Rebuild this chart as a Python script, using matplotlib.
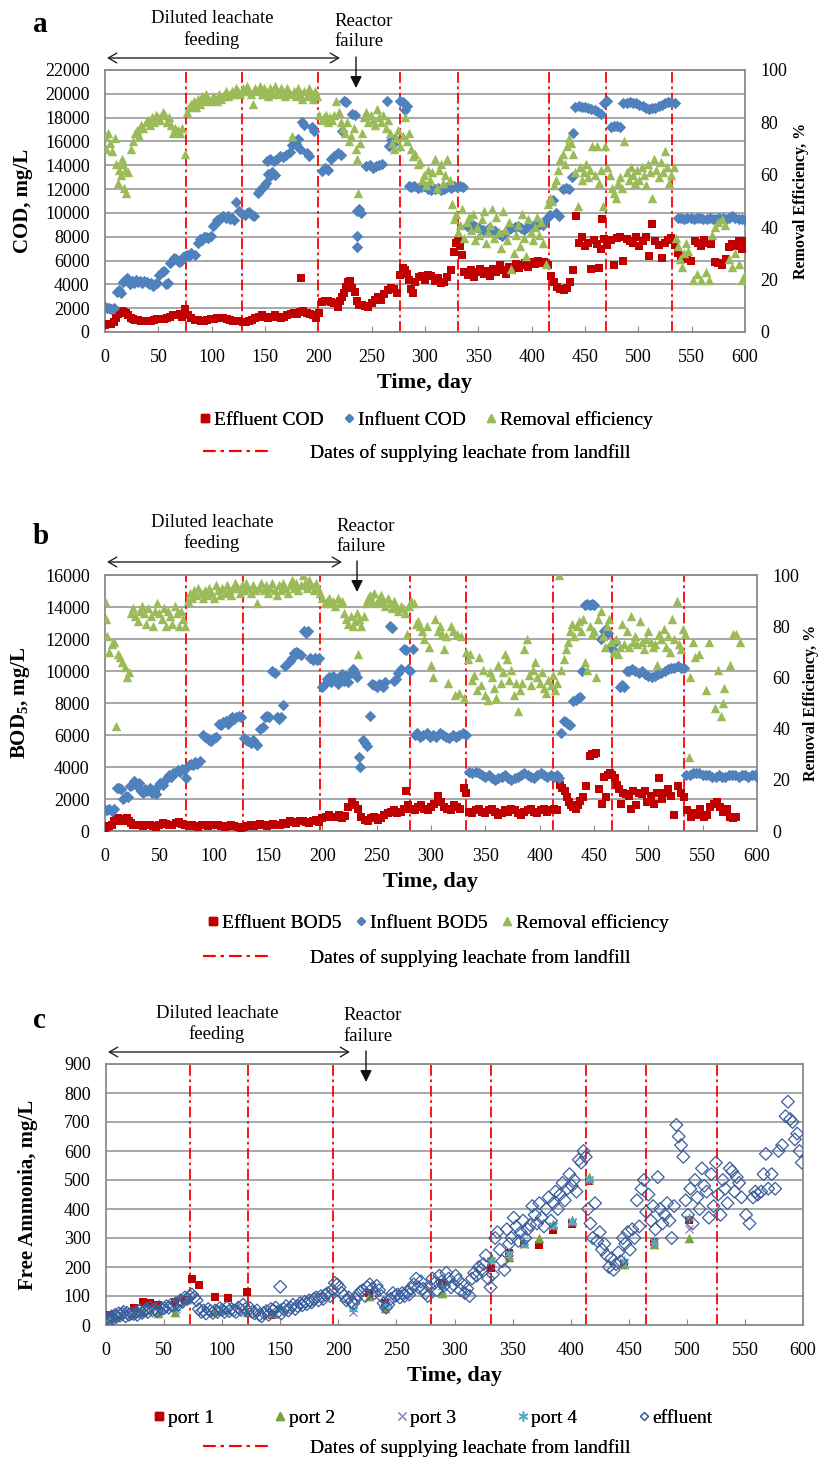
import matplotlib
matplotlib.use("Agg")
import matplotlib.pyplot as plt
from matplotlib.lines import Line2D

plt.rcParams['font.family'] = ['Liberation Serif', 'DejaVu Serif']
plt.rcParams['mathtext.fontset'] = 'custom'
plt.rcParams['mathtext.rm'] = 'Liberation Serif'
plt.rcParams['mathtext.bf'] = 'Liberation Serif:bold'

# ---------------- data ----------------
supply_days_a = [76, 128, 200, 277, 331, 416, 470, 532]
supply_days_b = [75, 127, 198, 281, 332, 412, 467, 533]
supply_days_c = [72, 122, 195, 280, 331, 413, 465, 526]

influent_cod = [(0,2100),(2,2050),(4,2000),(6,1950),(8,2000),(11,3400),(13,3500),(15,3300),(17,4200),(19,4400),
 (21,4500),(23,4000),(25,4300),(27,4100),(29,4400),(31,4200),(33,4300),(35,4100),(37,4300),(39,4200),(41,4000),
 (43,4100),(45,3900),(47,4000),(49,4100),(51,4800),(53,5000),(55,5100),(57,4000),(59,4100),(61,5800),(63,6000),
 (65,6200),(67,6100),(69,5900),(71,6000),(73,6300),(75,6400),(77,6500),(79,6400),(81,6600),(84,6500),(87,7500),
 (89,7800),(91,7700),(93,8000),(95,8000),(97,7900),(99,8100),(101,8900),(103,9100),(105,9400),(107,9500),(109,9600),
 (111,9700),(113,9600),(115,9700),(117,9500),(119,9600),(121,9400),(123,10900),(126,10200),(128,9900),(131,9800),
 (133,10000),(135,10100),(138,9800),(140,9700),(143,11700),(145,11900),(147,12100),(149,12300),(151,12500),
 (153,13300),(155,13100),(157,13400),(159,13200),(152,14400),(155,14500),(158,14400),(161,14500),(164,14800),
 (167,14700),(170,14900),(173,15100),(175,15700),(177,16000),(179,15800),(181,16200),(183,15400),(185,17600),
 (187,17400),(189,15000),(191,14800),(194,17200),(196,16900),(203,13500),(206,13800),(209,13600),(212,14500),
 (215,14800),(218,15000),(221,14900),(222,16900),(224,19400),(226,19300),(232,18300),(234,18200),(236,10200),
 (238,10300),(240,10000),(236,8100),(236,7100),(245,13900),(248,14000),(251,13800),(254,13900),(257,14000),
 (260,14100),(264,19400),(266,15600),(268,16100),(270,15800),(272,16200),(277,19400),(279,19300),(281,18600),
 (283,19000),(285,12300),(287,12200),(290,12300),(293,12100),(296,12200),(299,12300),(303,12000),(306,11900),
 (309,12000),(312,12100),(315,11900),(318,12000),(321,12200),(324,12100),(327,12300),(330,12200),(333,12300),
 (336,12200),(339,8900),(342,8800),(345,9000),(348,8800),(351,8700),(354,8600),(357,8500),(360,8700),(363,8600),
 (366,8500),(369,8200),(372,8100),(375,8300),(378,8600),(381,8700),(384,8800),(387,8900),(390,8700),(393,8600),
 (396,8800),(399,8900),(402,9000),(405,8900),(408,9100),(411,9000),(414,9600),(417,9800),(418,11000),(420,11100),
 (423,10000),(426,9700),(429,12000),(432,12100),(435,12000),(438,13000),(439,16700),(441,18900),(444,19000),
 (447,18900),(450,18900),(453,18800),(456,18700),(459,18600),(462,18500),(465,18300),(468,19200),(471,19400),
 (474,17200),(477,17300),(480,17300),(483,17200),(486,19200),(489,19200),(492,19300),(495,19200),(498,19200),
 (501,19100),(504,19000),(507,18800),(510,18700),(513,18800),(516,18800),(519,19000),(522,19100),(525,19200),
 (528,19300),(531,19300),(534,19200),(537,9600),(540,9600),(543,9500),(546,9600),(549,9600),(552,9500),(555,9600),
 (558,9600),(561,9500),(564,9500),(567,9600),(570,9500),(573,9500),(576,9600),(579,9600),(582,9500),(585,9600),
 (588,9700),(591,9600),(594,9500),(597,9500),(600,9400)]

effluent_cod = [(0,600),(2,700),(4,650),(6,700),(8,800),(10,1200),(12,1500),(14,1700),(16,1800),(18,1700),(20,1600),
 (22,1400),(24,1200),(26,1100),(28,1000),(31,1000),(34,950),(37,900),(40,900),(43,950),(46,1000),(49,1050),(52,1100),
 (55,1100),(58,1200),(61,1300),(64,1400),(67,1450),(70,1500),(72,1300),(75,1900),(78,1400),(81,1200),(84,1000),
 (87,1000),(90,900),(93,950),(96,1000),(99,1100),(102,1100),(105,1150),(108,1200),(111,1150),(114,1100),(117,1000),
 (120,950),(123,900),(126,950),(129,800),(132,850),(135,900),(138,1000),(141,1200),(144,1300),(147,1400),(150,1300),
 (153,1200),(156,1300),(159,1400),(162,1300),(165,1200),(168,1300),(171,1400),(174,1500),(177,1600),(180,1500),
 (183,1700),(184,4500),(186,1800),(189,1600),(192,1500),(195,1400),(198,1200),(201,1600),(203,2500),(206,2600),
 (209,2600),(212,2500),(215,2400),(218,2100),(220,2600),(222,2900),(224,3300),(226,3800),(228,4200),(230,4300),
 (232,3700),(234,3400),(236,2600),(238,2300),(241,2300),(244,2200),(247,2100),(250,2400),(253,2700),(256,2900),
 (259,2700),(262,3200),(265,3500),(268,3700),(271,3600),(274,3300),(277,4800),(279,5400),(281,5200),(283,4900),
 (285,4400),(287,3600),(289,3300),(291,4200),(294,4600),(297,4700),(300,4400),(303,4800),(306,4700),(309,4300),
 (312,4500),(315,4100),(318,4200),(321,4600),(324,5200),(327,6700),(329,7500),(331,7700),(333,7200),(335,6500),
 (337,5000),(340,4800),(343,5200),(346,4600),(349,5000),(352,5300),(355,4900),(358,5100),(361,4700),(364,5300),
 (367,5000),(370,5600),(373,5200),(376,4900),(379,5500),(382,5200),(385,5700),(388,5400),(391,5600),(394,5800),
 (397,5500),(400,5900),(403,5700),(406,6000),(409,5800),(412,5900),(415,5600),(418,4700),(421,4200),(424,3800),
 (427,3600),(430,3500),(433,3700),(436,4200),(439,5200),(442,9700),(444,7500),(447,8000),(450,7200),(453,7500),
 (456,5300),(458,7700),(461,7400),(463,5400),(465,7000),(466,9500),(468,7800),(471,7300),(474,7700),(477,5600),
 (480,7900),(483,8000),(486,6000),(489,7800),(492,7600),(495,7500),(498,8000),(501,7200),(504,7600),(507,8000),
 (510,6400),(513,9100),(516,7600),(519,7300),(522,6200),(525,7500),(528,7700),(531,7900),(534,7300),(537,6600),
 (540,6400),(543,6100),(546,6200),(549,6000),(553,7600),(556,7500),(559,7200),(562,7700),(565,7500),(568,7400),
 (572,5900),(575,5800),(578,5600),(582,6100),(585,7100),(588,7400),(591,7200),(594,7600),(597,7000),(600,7600)]

removal_cod = [(0,75),(1,70),(3,76),(5,72),(7,69),(9,74),(10,64),(12,57),(13,62),(15,60),(16,66),(17,64),(18,55),
 (19,62),(20,53),(22,61),(24,70),(26,73),(28,76),(30,77),(32,75),(34,79),(36,78),(38,80),(40,81),(42,79),(44,82),
 (46,80),(48,83),(50,82),(52,81),(54,84),(56,83),(58,80),(60,82),(62,79),(64,76),(66,78),(68,77),(70,76),(72,78),
 (75,68),(77,84),(79,86),(81,87),(83,88),(85,86),(87,89),(89,87),(91,90),(93,88),(95,91),(97,89),(99,88),(101,90),
 (103,89),(105,88),(107,91),(109,89),(111,90),(113,92),(115,90),(117,91),(119,92),(121,91),(123,93),(125,92),
 (127,91),(129,93),(131,92),(133,94),(135,92),(137,91),(139,87),(141,93),(143,92),(145,94),(147,91),(149,93),
 (151,92),(153,90),(155,93),(157,91),(159,94),(161,92),(163,91),(165,93),(167,92),(169,90),(171,93),(173,91),
 (175,75),(177,92),(179,90),(181,93),(183,91),(185,89),(187,92),(189,90),(191,93),(193,91),(195,89),(197,92),
 (199,90),(201,83),(203,81),(205,82),(207,83),(209,80),(211,82),(213,81),(215,83),(217,88),(219,84),(221,80),
 (223,78),(225,76),(227,80),(229,73),(231,75),(233,78),(235,70),(236,66),(237,53),(239,72),(241,76),(243,82),
 (245,84),(247,80),(249,83),(251,81),(253,79),(255,85),(257,82),(259,80),(261,83),(263,78),(265,81),(267,76),
 (269,72),(271,70),(273,74),(275,77),(277,71),(279,75),(281,82),(283,73),(285,76),(287,70),(289,67),(291,68),
 (293,64),(295,65),(297,58),(299,60),(301,56),(303,62),(305,58),(307,61),(309,66),(311,55),(313,62),(315,64),
 (317,57),(319,60),(321,66),(323,58),(325,49),(327,43),(329,45),(331,38),(333,41),(335,47),(337,36),(339,42),
 (341,44),(343,39),(345,45),(347,35),(349,40),(351,37),(353,43),(355,46),(357,34),(359,38),(361,41),(363,47),
 (365,36),(367,44),(369,38),(371,32),(373,46),(375,39),(377,35),(379,42),(381,24),(383,30),(385,37),(387,41),
 (389,33),(391,45),(393,36),(395,29),(397,43),(399,38),(401,35),(403,40),(405,44),(407,37),(409,42),(411,34),
 (413,26),(415,49),(417,51),(419,50),(421,56),(423,58),(425,62),(427,66),(429,68),(431,64),(433,71),(435,74),
 (437,72),(439,68),(441,61),(443,48),(445,63),(447,58),(449,61),(451,64),(453,59),(455,62),(457,71),(459,60),
 (461,71),(463,57),(465,62),(467,48),(469,71),(471,63),(473,60),(475,55),(477,53),(479,51),(481,57),(483,59),
 (485,55),(487,73),(489,61),(491,58),(493,63),(495,60),(497,57),(499,62),(501,58),(503,63),(505,60),(507,56),
 (509,64),(511,61),(513,51),(515,66),(517,62),(519,59),(521,65),(523,61),(525,69),(527,63),(529,57),(531,60),
 (533,63),(535,36),(537,33),(539,28),(541,25),(543,30),(545,34),(547,31),(551,20),(555,22),(559,20),(563,23),
 (566,20),(569,37),(572,40),(575,42),(578,43),(581,41),(585,28),(588,25),(591,30),(594,26),(597,20),(600,22)]

influent_bod = [(0,1300),(2,1300),(4,1400),(6,1250),(8,1350),(11,2700),(13,2700),(15,2600),(17,2000),(19,2200),
 (21,2100),(23,2800),(25,2900),(27,3100),(29,2800),(31,3000),(33,2500),(35,2400),(37,2600),(39,2500),(41,2700),
 (43,2400),(45,2500),(47,2300),(49,2800),(51,3000),(53,2900),(55,3200),(57,3300),(59,3500),(61,3400),(63,3600),
 (65,3700),(67,3800),(69,3700),(71,3900),(73,3800),(75,3300),(77,4100),(79,4200),(81,4100),(83,4300),(85,4200),
 (87,4400),(90,6000),(92,5900),(94,5800),(96,5700),(98,5600),(100,5800),(102,5900),(105,6700),(107,6600),
 (109,6800),(111,6900),(113,6700),(115,7000),(117,7100),(119,7000),(121,7100),(123,7200),(125,7100),(128,5800),
 (130,5700),(132,5600),(134,5500),(136,5700),(138,5500),(140,5400),(143,6400),(145,6500),(147,7100),(149,7200),
 (151,7100),(154,10000),(156,9900),(158,7100),(160,7000),(162,7100),(164,7900),(166,10300),(168,10500),
 (170,10600),(172,10800),(174,11100),(176,11200),(178,11100),(180,11000),(183,12500),(185,12400),(187,12500),
 (189,10800),(191,10700),(193,10800),(195,10700),(197,10800),(200,9000),(202,9200),(204,9500),(206,9600),
 (208,9300),(210,9700),(212,9500),(214,9200),(216,9600),(218,9800),(220,9400),(222,9700),(224,9300),(226,9900),
 (228,10100),(230,9900),(232,9600),(234,4600),(235,4000),(237,5700),(239,5500),(241,5300),(244,7200),(246,9200),
 (248,9100),(250,9000),(252,9200),(254,9100),(256,9000),(258,9300),(262,12800),(264,12700),(266,9400),(268,9500),
 (270,9900),(272,10100),(275,11400),(277,11300),(279,10100),(281,10000),(283,11400),(285,6000),(287,6100),
 (290,5900),(293,6000),(296,6100),(299,5900),(302,6000),(305,5900),(308,6100),(311,6000),(314,5900),(317,5800),
 (320,6000),(323,5900),(326,6000),(329,6100),(332,6000),(335,3700),(338,3600),(341,3700),(344,3600),(347,3500),
 (350,3400),(353,3500),(356,3300),(359,3200),(362,3300),(365,3400),(368,3500),(371,3300),(374,3200),(377,3300),
 (380,3400),(383,3500),(386,3600),(389,3500),(392,3400),(395,3300),(398,3500),(401,3600),(404,3500),(407,3400),
 (410,3500),(413,3400),(416,3500),(418,3300),(420,6100),(422,6900),(424,6800),(426,6700),(428,6600),(431,8100),
 (433,8200),(435,8300),(437,8400),(439,10000),(442,14100),(444,14200),(446,14100),(448,14200),(450,14100),
 (456,12000),(459,12500),(461,12600),(463,12400),(465,11500),(467,11400),(469,11800),(474,9000),(476,9100),
 (478,9000),(480,10000),(482,10000),(485,10100),(488,10000),(491,9900),(494,10000),(497,9800),(500,9700),
 (503,9600),(506,9700),(509,9800),(512,9900),(515,10000),(518,10100),(521,10200),(524,10200),(527,10300),
 (530,10200),(533,10200),(535,3500),(538,3500),(541,3600),(544,3600),(547,3600),(550,3500),(553,3500),(556,3500),
 (559,3400),(562,3400),(565,3500),(568,3400),(571,3400),(574,3500),(577,3500),(580,3500),(583,3400),(586,3500),
 (589,3500),(592,3400),(595,3500),(598,3500),(600,3400)]

effluent_bod = [(0,200),(2,250),(4,300),(6,350),(8,600),(10,700),(12,800),(14,750),(16,650),(18,700),(20,800),
 (22,600),(24,500),(26,400),(29,350),(32,400),(35,300),(38,350),(41,400),(44,300),(47,250),(50,400),(53,500),
 (56,450),(59,350),(62,400),(65,500),(68,550),(71,450),(74,400),(77,300),(80,350),(83,300),(86,250),(89,350),
 (92,400),(95,300),(98,350),(101,400),(104,350),(107,300),(110,250),(113,300),(116,350),(119,300),(122,250),
 (125,200),(128,250),(131,300),(134,350),(137,300),(140,400),(143,450),(146,350),(149,300),(152,400),(155,450),
 (158,350),(161,400),(164,500),(167,450),(170,600),(173,550),(176,500),(179,650),(182,600),(185,550),(188,500),
 (191,600),(194,700),(197,550),(200,800),(203,900),(206,1000),(209,850),(212,900),(215,1000),(218,800),(221,950),
 (224,1500),(227,1800),(230,1600),(233,1400),(236,900),(239,700),(242,600),(245,800),(248,900),(251,700),
 (254,800),(257,1000),(260,1100),(263,1200),(266,1300),(269,1100),(272,1200),(275,1400),(277,2500),(279,1600),
 (282,1400),(285,1300),(288,1500),(291,1600),(294,1400),(297,1300),(300,1500),(303,1700),(306,2200),(309,1800),
 (312,1500),(315,1400),(318,1300),(321,1600),(324,1500),(327,1400),(330,2700),(332,2400),(335,1200),(338,1100),
 (341,1300),(344,1400),(347,1200),(350,1100),(353,1300),(356,1400),(359,1200),(362,1000),(365,1100),(368,1300),
 (371,1200),(374,1400),(377,1300),(380,1100),(383,1000),(386,1200),(389,1300),(392,1400),(395,1200),(398,1100),
 (401,1300),(404,1400),(407,1200),(410,1300),(413,1400),(416,1300),(419,2900),(421,2700),(423,2500),(425,2100),
 (427,1800),(429,1600),(431,1500),(433,1400),(435,1600),(437,1900),(440,2100),(443,2800),(446,4700),(448,4800),
 (450,4800),(452,4900),(455,2600),(457,1700),(459,3400),(461,2100),(463,3500),(465,3600),(467,3500),(469,3300),
 (471,2900),(473,2600),(475,1700),(477,2400),(479,2300),(482,2200),(484,1400),(486,2500),(489,1600),(491,2400),
 (494,2300),(497,2500),(499,1800),(502,2200),(505,1700),(508,2400),(510,3300),(513,2000),(515,2400),(518,2600),
 (521,2200),(524,1000),(527,2800),(530,2400),(533,2100),(536,1300),(539,900),(542,1100),(545,1000),(548,1400),
 (551,900),(554,1000),(557,1500),(560,1700),(563,1800),(566,1500),(569,1200),(572,1400),(575,900),(578,800),
 (581,900)]

removal_bod = [(0,90),(1,83),(2,76),(4,70),(6,73),(8,74),(10,41),(12,69),(14,68),(16,66),(18,64),(20,60),(22,62),
 (24,85),(26,87),(28,84),(30,82),(32,86),(34,88),(36,85),(38,81),(40,87),(42,84),(44,80),(46,86),(48,89),(50,85),
 (52,83),(54,87),(56,80),(58,86),(60,84),(62,81),(64,88),(66,85),(68,80),(70,86),(72,83),(74,80),(76,90),(78,93),
 (80,91),(82,94),(84,92),(86,95),(88,93),(90,91),(92,94),(94,92),(96,95),(98,93),(100,91),(102,96),(104,94),
 (106,92),(108,95),(110,93),(112,96),(114,94),(116,92),(118,95),(120,97),(122,95),(124,93),(126,96),(128,94),
 (130,97),(132,95),(134,93),(136,96),(138,94),(140,89),(142,95),(144,97),(146,94),(148,96),(150,93),(152,95),
 (154,97),(156,94),(158,92),(160,96),(162,94),(164,97),(166,95),(168,93),(170,96),(172,98),(174,95),(176,97),
 (178,94),(180,96),(182,100),(184,97),(186,95),(188,98),(190,96),(192,94),(194,97),(196,95),(198,93),(200,91),
 (202,89),(204,90),(206,91),(208,89),(210,90),(212,88),(214,91),(216,89),(218,90),(220,85),(222,83),(224,81),
 (226,84),(228,80),(230,82),(232,85),(233,69),(234,83),(236,80),(238,84),(240,89),(242,91),(244,92),(246,90),
 (248,93),(250,89),(252,91),(254,92),(256,90),(258,88),(260,91),(262,89),(264,87),(266,90),(268,88),(270,86),
 (272,88),(274,87),(276,85),(278,77),(280,88),(282,90),(284,89),(286,81),(288,82),(290,80),(292,78),(294,75),
 (296,80),(298,72),(300,65),(302,60),(304,83),(306,78),(308,80),(310,77),(312,71),(314,76),(316,58),(318,80),
 (320,78),(322,53),(324,77),(326,54),(328,76),(330,52),(332,70),(334,67),(336,69),(338,59),(340,61),(342,55),
 (344,68),(346,57),(348,63),(350,53),(352,51),(354,62),(356,60),(358,56),(360,52),(362,65),(364,58),(366,62),
 (368,69),(370,67),(372,59),(374,63),(376,53),(378,58),(380,47),(382,55),(384,58),(386,71),(388,75),(390,61),
 (392,57),(394,63),(396,66),(398,60),(400,58),(402,62),(404,56),(406,54),(408,59),(410,57),(412,61),(414,55),
 (416,58),(418,100),(420,63),(422,67),(424,71),(426,74),(428,78),(430,81),(432,76),(434,80),(436,82),(438,78),
 (440,83),(442,66),(444,63),(446,80),(448,77),(450,78),(452,60),(454,83),(456,86),(458,76),(460,72),(462,80),
 (464,83),(466,74),(468,70),(470,75),(472,69),(474,72),(476,81),(478,73),(480,78),(482,72),(484,84),(486,74),
 (488,76),(490,73),(492,82),(494,74),(496,71),(498,75),(500,78),(502,74),(504,72),(506,73),(508,65),(510,77),
 (512,75),(514,79),(516,72),(518,76),(520,70),(522,83),(524,75),(526,90),(528,73),(530,71),(532,79),(534,77),
 (537,29),(538,60),(541,74),(543,68),(547,69),(553,55),(556,74),(561,48),(564,63),(567,45),(569,50),(570,56),
 (575,65),(578,77),(581,77),(584,74)]

ammonia_effluent = [(0,20),(2,25),(3,18),(5,30),(6,22),(8,35),(9,28),(11,40),(12,32),(14,38),(15,45),(17,30),(18,42),
 (20,35),(22,40),(24,38),(26,45),(27,35),(29,50),(31,42),(33,48),(35,55),(36,45),(38,60),(40,50),(42,55),(44,48),
 (46,62),(48,55),(50,58),(52,65),(54,60),(56,70),(58,66),(60,75),(62,70),(64,85),(66,80),(68,95),(70,90),(72,100),
 (74,105),(76,95),(78,85),(80,55),(82,45),(84,50),(86,40),(88,55),(90,48),(92,42),(94,50),(96,45),(98,58),(100,52),
 (102,45),(104,60),(106,48),(108,55),(110,50),(112,45),(114,60),(116,52),(118,70),(120,55),(122,48),(124,58),
 (126,45),(128,40),(130,50),(132,35),(134,30),(136,42),(138,48),(140,35),(142,55),(144,50),(146,60),(148,45),
 (150,132),(151,40),(153,55),(155,65),(157,50),(159,60),(161,70),(163,55),(165,65),(167,75),(169,68),(171,80),
 (173,72),(175,85),(177,78),(179,90),(181,95),(183,85),(185,100),(187,90),(189,105),(191,110),(193,100),(195,120),
 (197,145),(199,140),(201,130),(203,110),(205,100),(207,85),(209,95),(211,80),(213,75),(215,90),(217,105),
 (219,115),(221,120),(223,100),(225,130),(227,140),(229,125),(231,110),(233,135),(235,120),(237,100),(239,75),
 (241,60),(243,70),(245,90),(247,110),(249,100),(251,105),(253,95),(255,110),(257,100),(259,115),(261,105),
 (263,125),(265,140),(267,160),(269,130),(271,150),(273,125),(275,110),(277,100),(279,130),(281,160),(283,145),
 (285,120),(287,170),(289,150),(291,135),(293,180),(295,160),(297,130),(299,140),(301,170),(303,155),(305,120),
 (307,140),(309,110),(311,125),(313,100),(315,160),(317,180),(319,170),(321,200),(323,190),(325,210),(327,240),
 (329,160),(331,130),(333,175),(335,300),(337,320),(339,260),(341,220),(343,190),(345,330),(347,280),(349,300),
 (351,370),(353,340),(355,290),(357,320),(359,360),(361,300),(363,330),(365,345),(367,410),(369,380),(371,350),
 (373,420),(375,370),(377,340),(379,400),(381,440),(383,360),(385,420),(387,460),(389,400),(391,450),(393,490),
 (395,430),(397,470),(399,520),(401,480),(403,500),(405,460),(407,570),(409,560),(411,600),(413,580),(415,400),
 (417,350),(419,300),(421,420),(423,290),(425,320),(427,260),(429,280),(431,240),(433,200),(435,230),(437,190),
 (439,210),(441,250),(443,220),(445,300),(447,280),(449,320),(451,260),(453,330),(455,300),(457,430),(459,340),
 (461,470),(463,500),(465,390),(467,450),(469,360),(471,410),(473,330),(475,510),(477,400),(479,350),(481,380),
 (483,420),(485,360),(487,300),(489,410),(491,690),(493,650),(495,620),(497,580),(499,430),(501,380),(503,470),
 (505,350),(507,500),(509,440),(511,400),(513,540),(515,480),(517,460),(519,370),(521,520),(523,410),(525,560),
 (527,450),(529,380),(531,500),(533,470),(535,420),(537,540),(539,530),(541,460),(543,510),(545,490),(547,440),
 (551,380),(554,350),(557,440),(559,460),(561,450),(564,460),(566,520),(568,590),(570,470),(573,520),(576,470),
 (579,600),(582,620),(585,720),(587,770),(589,710),(591,700),(593,640),(595,660),(597,600),(599,560)]

ammonia_port1 = [(3,35),(24,57),(32,80),(38,75),(45,69),(59,80),(68,86),(74,160),(80,138),(94,98),(105,92),(121,115),
 (143,35),(226,110),(240,75),(289,146),(331,195),(347,247),(360,279),(373,276),(385,328),(401,350),(416,498),
 (446,210),(472,287),(502,362)]
ammonia_port2 = [(3,25),(24,40),(32,50),(45,40),(59,45),(70,90),(94,50),(121,45),(143,40),(226,100),(240,60),
 (289,111),(331,235),(347,235),(360,282),(373,299),(385,350),(401,362),(416,509),(446,212),(472,279),(502,299)]
ammonia_port3 = [(5,28),(30,45),(60,55),(100,50),(150,55),(213,45),(240,65),(289,120),(331,220),(347,240),(360,280),
 (385,340),(401,355),(416,500),(446,215),(472,285),(502,330)]
ammonia_port4 = [(5,30),(30,42),(60,58),(100,52),(150,58),(213,55),(240,70),(289,130),(331,225),(347,250),(360,285),
 (385,345),(401,360),(416,505),(446,220),(472,290),(502,370)]

# ---------------- styling ----------------
RED = '#C00000'
BLUE = '#4F81BD'
GREEN = '#9BBB59'
DBLUE = '#3A5E9C'
PURPLE = '#9C8DC2'
CYAN = '#4BACC6'
GRID = '#A0A0A0'
FRAME = '#8A8A8A'
W, H = 829, 1458

fig = plt.figure(figsize=(W / 100, H / 100), dpi=100)


def axes_px(l, t, r, b):
    return fig.add_axes([l / W, 1 - b / H, (r - l) / W, (b - t) / H])


def fx(x):
    return x / W


def fy(y):
    return 1 - y / H


def xy(series):
    return [p[0] for p in series], [p[1] for p in series]


def style_axes(ax, ymax, ystep, ylabel):
    ax.set_xlim(0, 600)
    ax.set_ylim(0, ymax)
    ax.set_xticks(range(0, 601, 50))
    ax.set_yticks(range(0, ymax + 1, ystep))
    ax.grid(axis='y', color=GRID, lw=1.3)
    ax.set_axisbelow(True)
    for s in ax.spines.values():
        s.set_color(FRAME)
        s.set_linewidth(1.3)
    ax.tick_params(axis='x', direction='in', length=4, color=FRAME, pad=12, labelsize=13)
    ax.tick_params(axis='y', length=0, pad=11, labelsize=13)
    ax.set_xlabel('Time, day', fontsize=16, fontweight='bold', labelpad=5)
    ax.set_ylabel(ylabel, fontsize=15, fontweight='bold')
    ax.yaxis.set_label_coords(-0.112, 0.5)


def supply_lines(ax, days):
    for d in days:
        ax.axvline(d, color='red', lw=1.3, ls=(0, (6, 2, 1.5, 2)), zorder=1.5)


def header(letter, y_letter, cx_dil, y_dil, x_reac, y_reac, y_arrow, x0, x1, x_down, y_down0, y_down1):
    fig.text(fx(33), fy(y_letter), letter, fontsize=21, fontweight='bold', ha='left', va='center')
    fig.text(fx(cx_dil), fy(y_dil), 'Diluted leachate\nfeeding', fontsize=13.5, ha='center', va='center',
             multialignment='center', linespacing=1.25)
    fig.text(fx(x_reac), fy(y_reac), 'Reactor\nfailure', fontsize=13.5, ha='left', va='center',
             multialignment='left', linespacing=1.25)
    fig.add_artist(matplotlib.patches.FancyArrowPatch((fx(x0), fy(y_arrow)), (fx(x1), fy(y_arrow)),
                   transform=fig.transFigure, arrowstyle='<->,head_length=6,head_width=3.5',
                   color='#222222', lw=1.0, shrinkA=0, shrinkB=0))
    fig.add_artist(matplotlib.patches.FancyArrowPatch((fx(x_down), fy(y_down0)), (fx(x_down), fy(y_down1)),
                   transform=fig.transFigure, arrowstyle='-|>,head_length=7,head_width=3.5',
                   color='#111111', lw=1.0, shrinkA=0, shrinkB=0))


def bottom_legend(handles, labels, cx, y1, y2, colsp, ncol):
    leg = fig.legend(handles, labels, loc='center', bbox_to_anchor=(fx(cx), fy(y1)), ncol=ncol, frameon=False,
                     fontsize=14, handlelength=0.6, handletextpad=0.15, columnspacing=colsp, borderpad=0)
    fig.add_artist(leg)
    line = Line2D([], [], color='red', lw=1.5, ls=(0, (6, 2.5, 1.5, 2.5)))
    leg2 = fig.legend([line], ['Dates of supplying leachate from landfill'], loc='center',
                      bbox_to_anchor=(fx(417), fy(y2)), frameon=False, fontsize=14,
                      handlelength=3.5, handletextpad=2.0, borderpad=0)
    fig.add_artist(leg2)


# ---------------- panel a ----------------
axa = axes_px(105, 70, 745, 332)
style_axes(axa, 22000, 2000, 'COD, mg/L')
supply_lines(axa, supply_days_a)
x, y = xy(effluent_cod)
axa.scatter(x, y, marker='s', s=34, color=RED, lw=0, zorder=3)
x, y = xy(influent_cod)
axa.scatter(x, y, marker='D', s=34, color=BLUE, lw=0, zorder=3)
axa2 = axa.twinx()
axa2.set_ylim(0, 100)
axa2.set_yticks(range(0, 101, 20))
axa2.tick_params(axis='y', length=0, pad=11, labelsize=13)
for s in axa2.spines.values():
    s.set_visible(False)
x, y = xy(removal_cod)
axa2.scatter(x, y, marker='^', s=46, color=GREEN, lw=0, zorder=3)
axa2.set_ylabel('Removal Efficiency, %', fontsize=11.5, fontweight='bold')
axa2.yaxis.set_label_coords(1.075, 0.5)
header('a', 25, 212, 29.5, 334, 31.5, 58, 107, 340, 356, 57, 88)
bottom_legend([Line2D([], [], ls='none', marker='s', ms=5.5, color=RED),
               Line2D([], [], ls='none', marker='D', ms=4, color=BLUE),
               Line2D([], [], ls='none', marker='^', ms=6, color=GREEN)],
              ['Effluent COD', 'Influent COD', 'Removal efficiency'], 426, 420, 453, 1.0, 3)

# ---------------- panel b ----------------
axb = axes_px(105, 575, 757, 831)
style_axes(axb, 16000, 2000, r'BOD$_\mathbf{5}$, mg/L')
supply_lines(axb, supply_days_b)
x, y = xy(effluent_bod)
axb.scatter(x, y, marker='s', s=34, color=RED, lw=0, zorder=3)
x, y = xy(influent_bod)
axb.scatter(x, y, marker='D', s=34, color=BLUE, lw=0, zorder=3)
axb2 = axb.twinx()
axb2.set_ylim(0, 100)
axb2.set_yticks(range(0, 101, 20))
axb2.tick_params(axis='y', length=0, pad=11, labelsize=13)
for s in axb2.spines.values():
    s.set_visible(False)
x, y = xy(removal_bod)
axb2.scatter(x, y, marker='^', s=46, color=GREEN, lw=0, zorder=3)
axb2.set_ylabel('Removal Efficiency, %', fontsize=11.5, fontweight='bold')
axb2.yaxis.set_label_coords(1.07, 0.5)
header('b', 537, 212, 533, 336, 536.5, 562, 107, 342, 357, 561, 592)
bottom_legend([Line2D([], [], ls='none', marker='s', ms=5.5, color=RED),
               Line2D([], [], ls='none', marker='D', ms=4, color=BLUE),
               Line2D([], [], ls='none', marker='^', ms=6, color=GREEN)],
              ['Effluent BOD5', 'Influent BOD5', 'Removal efficiency'], 438, 923, 958, 0.7, 3)

# ---------------- panel c ----------------
axc = axes_px(106, 1064, 803, 1325)
style_axes(axc, 900, 100, 'Free Ammonia, mg/L')
axc.yaxis.set_label_coords(-0.098, 0.5)
supply_lines(axc, supply_days_c)
x, y = xy(ammonia_port1)
axc.scatter(x, y, marker='s', s=36, color=RED, lw=0, zorder=3)
x, y = xy(ammonia_port2)
axc.scatter(x, y, marker='^', s=48, color='#77A33A', lw=0, zorder=3)
x, y = xy(ammonia_port3)
axc.scatter(x, y, marker='x', s=34, color=PURPLE, lw=1.0, zorder=3)
x, y = xy(ammonia_port4)
axc.scatter(x, y, marker=(6, 2, 0), s=38, color=CYAN, lw=1.0, zorder=3)
x, y = xy(ammonia_effluent)
axc.scatter(x, y, marker='D', s=42, facecolors='none', edgecolors=DBLUE, lw=0.9, zorder=4)
header('c', 1020, 217, 1024, 343, 1026, 1052, 108, 350, 366, 1051, 1082)
bottom_legend([Line2D([], [], ls='none', marker='s', ms=5.5, color=RED),
               Line2D([], [], ls='none', marker='^', ms=6, color='#77A33A'),
               Line2D([], [], ls='none', marker='x', ms=6, color=PURPLE, mew=1),
               Line2D([], [], ls='none', marker=(6, 2, 0), ms=7, color=CYAN, mew=1),
               Line2D([], [], ls='none', marker='D', ms=4.5, mfc='none', mec=DBLUE, mew=0.9)],
              ['port 1', 'port 2', 'port 3', 'port 4', 'effluent'], 433, 1418, 1448, 3.1, 5)

fig.savefig('out.png', dpi=100)
